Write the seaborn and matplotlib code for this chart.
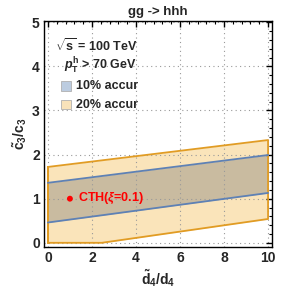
import numpy as np
import pandas as pd
import seaborn as sns
import matplotlib.pyplot as plt
from matplotlib.patches import Rectangle
from matplotlib.ticker import MultipleLocator

# band edges (x = d4~/d4, y = c3~/c3)
x20_upper = [0, 10]
y20_upper = [1.72, 2.33]
x20_lower = [0, 2.45, 10]
y20_lower = [0.0, 0.0, 0.54]
x10_upper = [0, 10]
y10_upper = [1.36, 1.99]
x10_lower = [0, 10]
y10_lower = [0.46, 1.13]
cth_x = [1.0]
cth_y = [1.0]

orange = "#E19C24"
blue = "#5E81B5"

sns.set_theme(style="white")
plt.rcParams["font.family"] = ["Liberation Sans", "DejaVu Sans"]
plt.rcParams["mathtext.fontset"] = "custom"
plt.rcParams["mathtext.rm"] = "Liberation Sans:bold"
plt.rcParams["mathtext.it"] = "Liberation Sans:bold:italic"
plt.rcParams["mathtext.bf"] = "Liberation Sans:bold"

fig = plt.figure(figsize=(2.91, 2.91), dpi=100)
ax = fig.add_axes([0.151, 0.152, 0.783, 0.776])

# fills
xs = np.linspace(0, 10, 201)
o_up = np.interp(xs, x20_upper, y20_upper)
o_lo = np.interp(xs, x20_lower, y20_lower)
b_up = np.interp(xs, x10_upper, y10_upper)
b_lo = np.interp(xs, x10_lower, y10_lower)
ax.fill_between(xs, o_lo, o_up, color="#FAE4BA", lw=0, zorder=1)
ax.fill_between(xs, b_lo, b_up, color="#C9BBA0", lw=0, zorder=1)

# outlines
o_outline = pd.DataFrame({
    "x": [0] + x20_lower + [10] + x20_upper[::-1] + [0],
    "y": [y20_upper[0]] + y20_lower + [y20_upper[1]] + y20_upper[::-1] + [0],
})
ax.plot(o_outline["x"], o_outline["y"], color=orange, lw=1.3, zorder=3)
sns.lineplot(x=x10_upper, y=y10_upper, color=blue, lw=1.3, ax=ax, zorder=3)
sns.lineplot(x=x10_lower, y=y10_lower, color=blue, lw=1.3, ax=ax, zorder=3)

sns.scatterplot(x=cth_x, y=cth_y, color="red", s=18, edgecolor="none", ax=ax, zorder=5)
ax.text(1.35, 1.0, r"CTH($\xi$=0.1)", color="red", fontsize=9, fontweight="bold",
        va="center", ha="left", zorder=5)

ax.set_xlim(-0.18, 10.17)
ax.set_ylim(-0.09, 5.03)
ax.xaxis.set_major_locator(MultipleLocator(2))
ax.xaxis.set_minor_locator(MultipleLocator(0.4))
ax.yaxis.set_major_locator(MultipleLocator(1))
ax.yaxis.set_minor_locator(MultipleLocator(0.2))
ax.tick_params(which="both", direction="in", top=True, right=True, color="black")
ax.tick_params(which="major", length=4, width=1, labelsize=10, pad=3)
ax.tick_params(which="minor", length=2.5, width=0.8)
for lab in ax.get_xticklabels() + ax.get_yticklabels():
    lab.set_fontweight("bold")
ax.set_axisbelow(False)
ax.grid(True, which="major", color="#999999", ls=(0, (1, 3)), lw=0.8)
for s in ax.spines.values():
    s.set_color("black")
    s.set_linewidth(1.0)
    s.set_zorder(6)

ax.set_xlabel(r"$\tilde{\mathrm{d}}_4/\mathrm{d}_4$", fontsize=10, labelpad=2)
ax.set_ylabel(r"$\tilde{\mathrm{c}}_3/\mathrm{c}_3$", fontsize=10, labelpad=2)
ax.set_title("gg -> hhh", fontsize=9.5, fontweight="bold", pad=4)

# in-plot legend
ax.text(0.05, 0.89, r"$\sqrt{\mathrm{s}}$ = 100 TeV", transform=ax.transAxes,
        fontsize=9, fontweight="bold", va="center")
ax.text(0.09, 0.80, r"$p_\mathrm{T}^\mathrm{h}$ > 70 GeV", transform=ax.transAxes,
        fontsize=9, fontweight="bold", va="center")
ax.add_patch(Rectangle((0.075, 0.69), 0.045, 0.042, transform=ax.transAxes,
                       facecolor="#BCCCE0", edgecolor="#B0B0B0", lw=0.6))
ax.text(0.14, 0.71, "10% accur", transform=ax.transAxes,
        fontsize=9, fontweight="bold", va="center")
ax.add_patch(Rectangle((0.075, 0.61), 0.045, 0.042, transform=ax.transAxes,
                       facecolor="#F8E2BA", edgecolor="#B0B0B0", lw=0.6))
ax.text(0.14, 0.63, "20% accur", transform=ax.transAxes,
        fontsize=9, fontweight="bold", va="center")

fig.savefig("out.png", dpi=100)
